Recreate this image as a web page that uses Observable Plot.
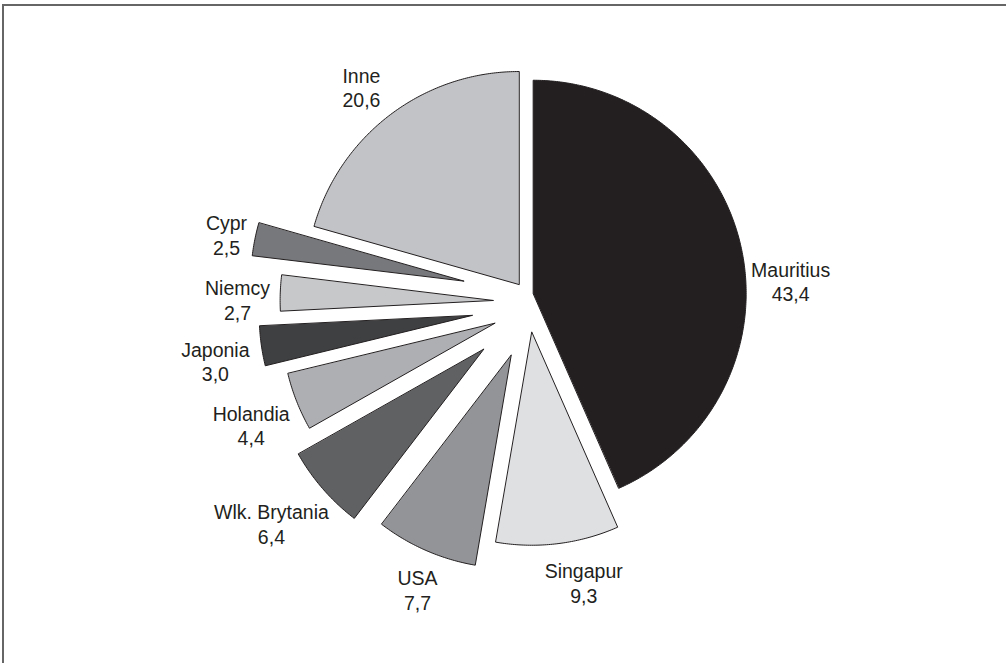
<!DOCTYPE html>
<html>
<head>
<meta charset="utf-8">
<script src="https://cdn.jsdelivr.net/npm/d3@7"></script>
<script src="https://cdn.jsdelivr.net/npm/@observablehq/plot@0.6"></script>
<style>
  html, body { margin: 0; padding: 0; background: #fff; }
  #wrap { position: relative; width: 1006px; height: 663px; overflow: hidden; }
  #frame { position: absolute; left: 2px; top: 4px; right: -10px; bottom: -10px;
           border-top: 2px solid #666; border-left: 2px solid #666; pointer-events: none; }
  svg { display: block; }
</style>
</head>
<body>
<div id="wrap"><div id="frame"></div></div>
<script>
// ---- data ----
const names  = ["Mauritius", "Singapur", "USA", "Wlk. Brytania", "Holandia", "Japonia", "Niemcy", "Cypr", "Inne"];
const values = [43.4, 9.3, 7.7, 6.4, 4.4, 3.0, 2.7, 2.5, 20.6];

// ---- styles / layout ----
const colors = ["#231f20", "#dfe0e2", "#939497", "#606163", "#aeafb2", "#3f4042", "#c7c8ca", "#77787b", "#c2c3c6"];
// explode offsets of each slice (in units of the pie radius, y pointing up)
const explodeX = [0.097, 0.091, -0.006, -0.135, -0.083, -0.189, -0.091, -0.229, 0.030];
const explodeY = [0.034, -0.149, -0.257, -0.229, -0.107, -0.070, 0.000, 0.091, 0.075];
// label placement relative to each slice tip: angle (deg, clockwise from 12 o'clock), distance (radius units)
const labelAngle = [87.3, 168.3, 201.8, 230.6, 247.3, 259.9, 270.2, 281.1, 321.4];
const labelDist  = [1.21, 1.20, 1.185, 1.29, 1.24, 1.225, 1.20, 1.135, 1.185];

const W = 1006, H = 663, CX = 512, CY = 300, R = 213;

const arcs = d3.pie().sort(null).value(d => d)(values);

const poly = [];
arcs.forEach((a, i) => {
  const ox = explodeX[i], oy = explodeY[i];
  poly.push({name: names[i], x: ox, y: oy});
  const n = Math.max(2, Math.ceil((a.endAngle - a.startAngle) / 0.01));
  for (let k = 0; k <= n; k++) {
    const t = a.startAngle + (a.endAngle - a.startAngle) * k / n;
    poly.push({name: names[i], x: ox + Math.sin(t), y: oy + Math.cos(t)});
  }
});

const labels = arcs.map((a, i) => {
  const t = labelAngle[i] * Math.PI / 180;
  return {
    name: names[i],
    text: names[i] + "\n" + values[i].toFixed(1).replace(".", ","),
    x: explodeX[i] + labelDist[i] * Math.sin(t),
    y: explodeY[i] + labelDist[i] * Math.cos(t)
  };
});

const chart = Plot.plot({
  width: W,
  height: H,
  margin: 0,
  x: {domain: [-CX / R, (W - CX) / R], range: [0, W], axis: null},
  y: {domain: [-(H - CY) / R, CY / R], range: [H, 0], axis: null},
  color: {domain: names, range: colors},
  style: {fontFamily: "'Liberation Sans', Arial, sans-serif", background: "transparent"},
  marks: [
    Plot.line(poly, {x: "x", y: "y", z: "name", fill: "name", stroke: "#231f20", strokeWidth: 1, curve: "linear-closed", strokeLinejoin: "miter"}),
    Plot.text(labels, {x: "x", y: "y", text: "text", fontSize: 19.5, lineHeight: 1.25, textAnchor: "middle", fill: "#231f20"})
  ]
});
document.getElementById("wrap").prepend(chart);
</script>
</body>
</html>
